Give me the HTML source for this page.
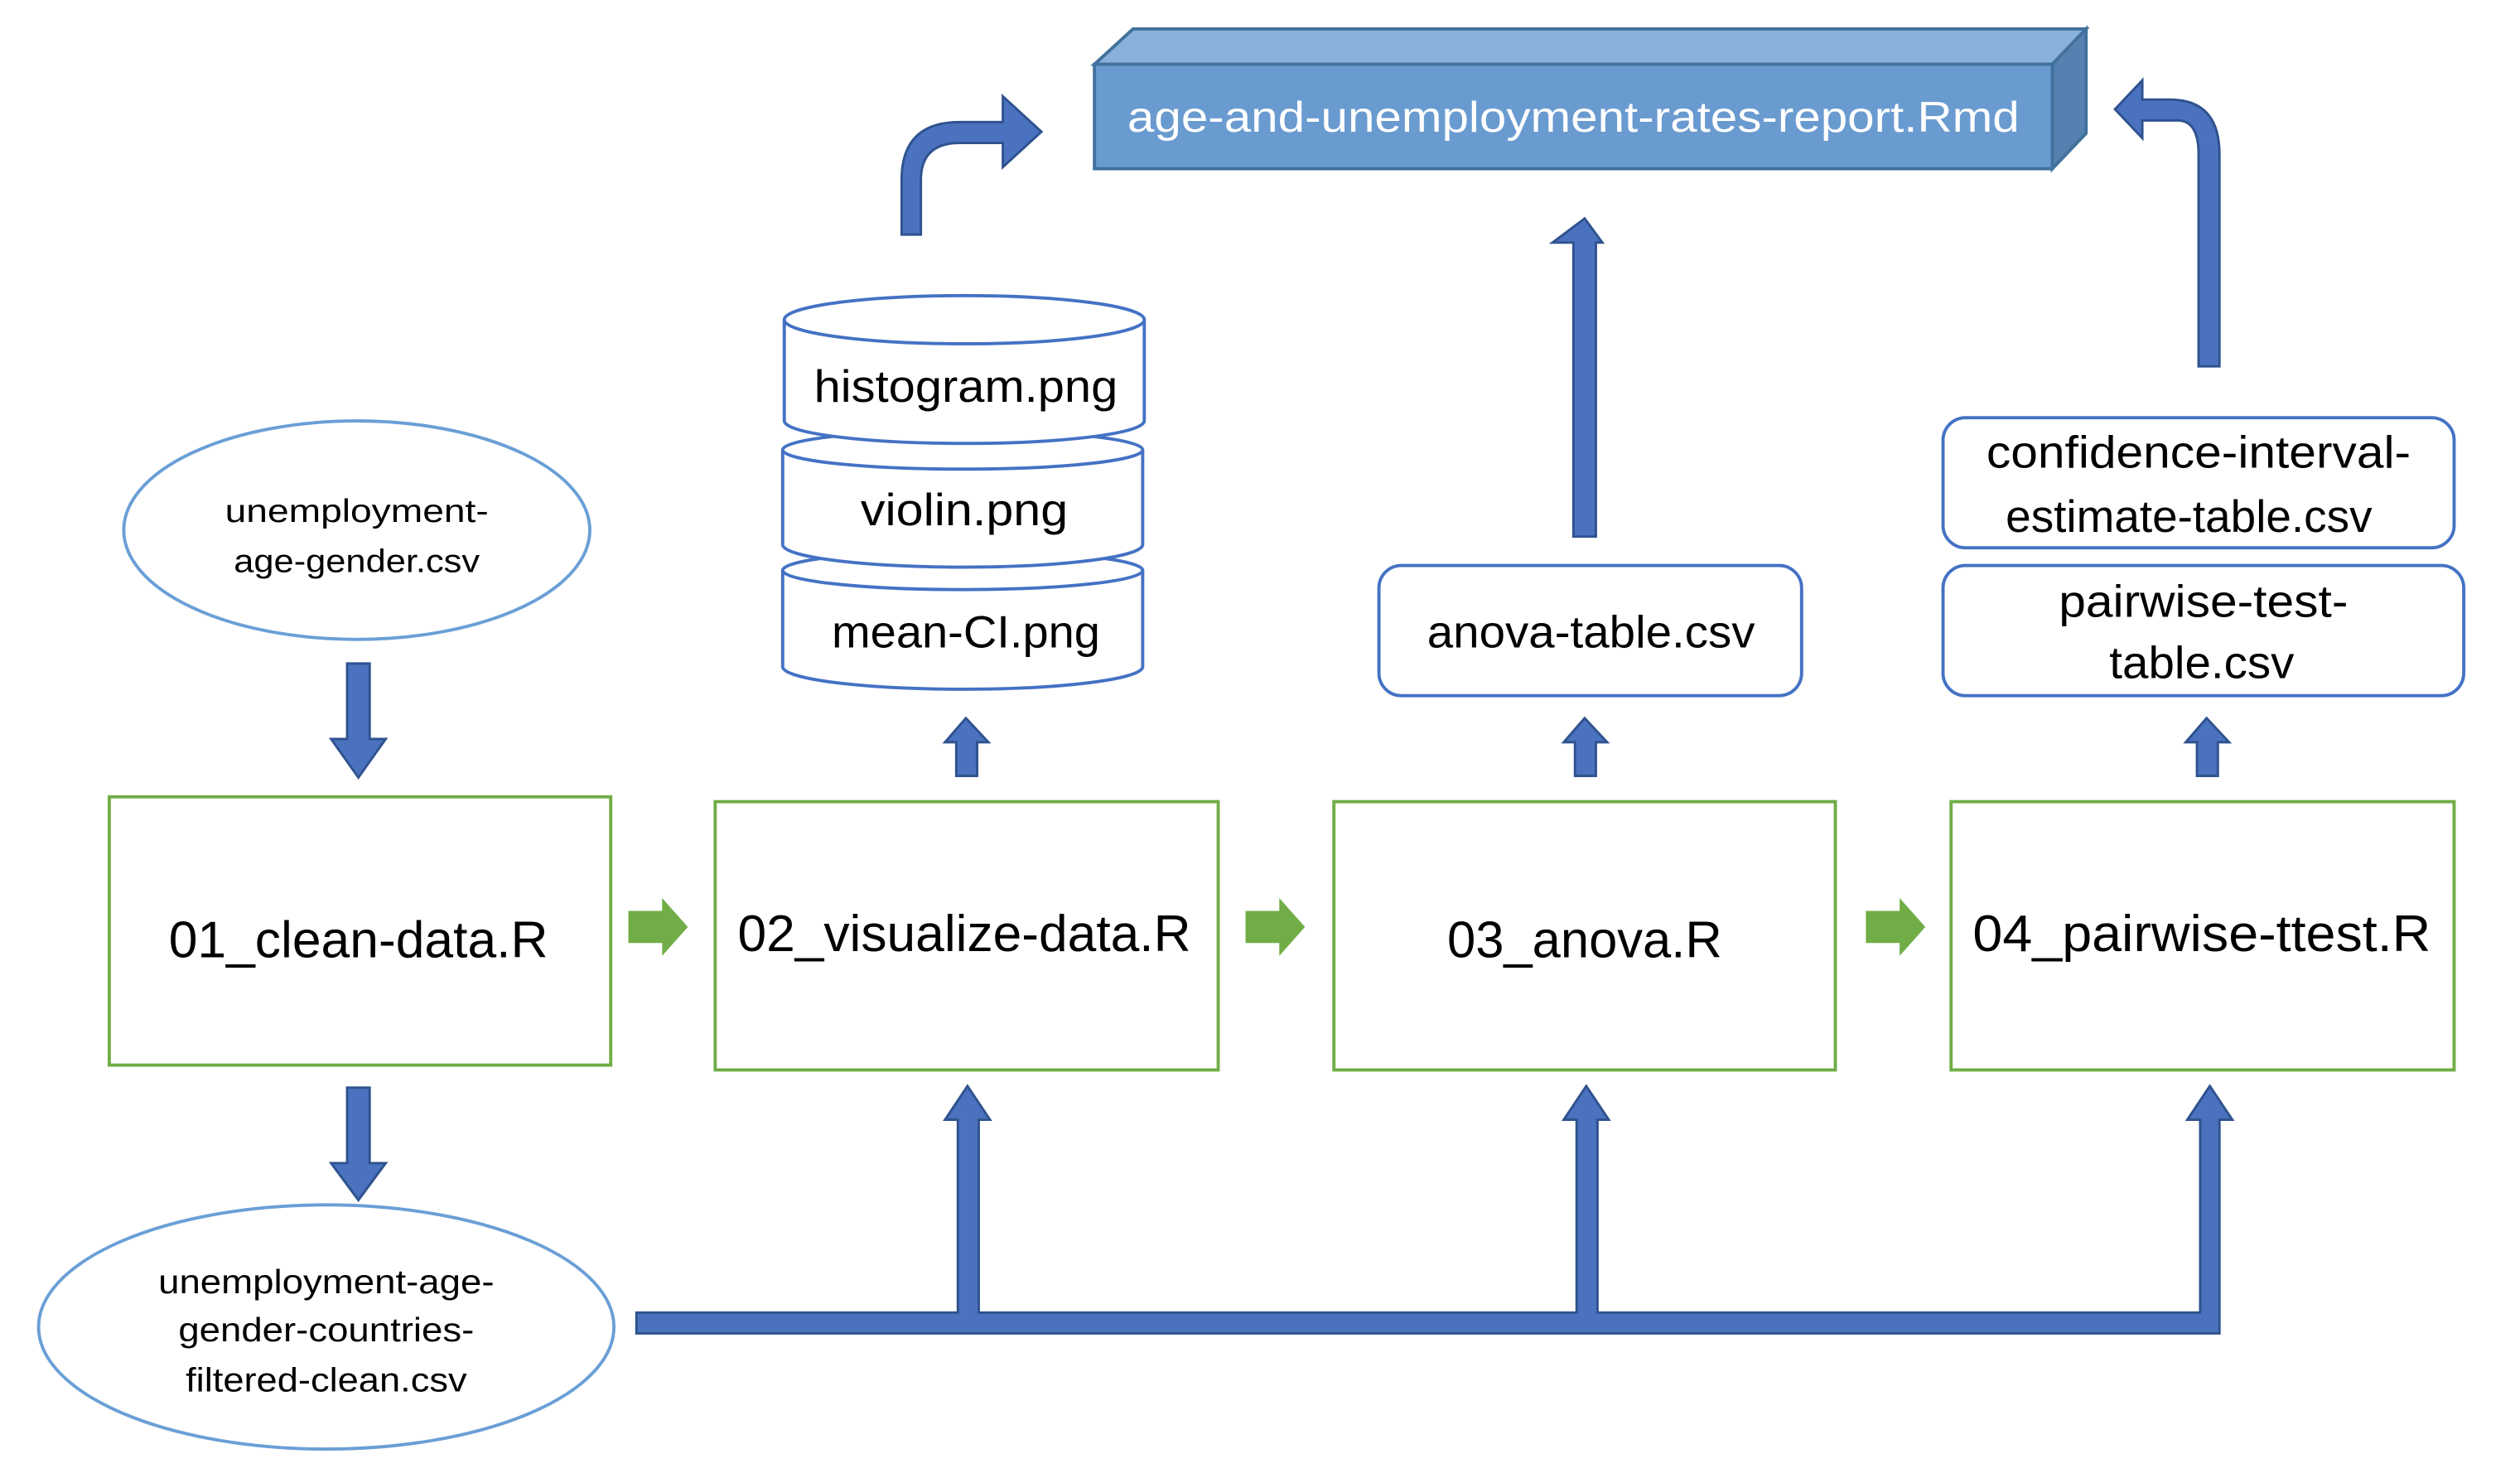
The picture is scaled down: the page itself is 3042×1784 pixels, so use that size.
<!DOCTYPE html>
<html><head><meta charset="utf-8"><style>html,body{margin:0;padding:0;background:#fff}svg{display:block}</style></head>
<body>
<svg width="3042" height="1784" viewBox="0 0 1568 920" preserveAspectRatio="none" xmlns="http://www.w3.org/2000/svg" font-family="'Liberation Sans', sans-serif">
<rect width="1568" height="920" fill="#fff"/>
<polygon points="681,40 705,18 1298,18 1277,40" fill="#88b0d8" stroke="#41719c" stroke-width="2"/>
<polygon points="1277,40 1298,18 1298,83 1277,105" fill="#5580b0" stroke="#41719c" stroke-width="2"/>
<rect x="681" y="40" width="596" height="65" fill="#6a9bd0" stroke="#41719c" stroke-width="2"/>
<text x="979" y="82" font-size="27" fill="#fff" text-anchor="middle" textLength="555" lengthAdjust="spacingAndGlyphs">age-and-unemployment-rates-report.Rmd</text>
<g fill="#4a72be" stroke="#2f528f" stroke-width="1.5">
<path d="M561,146 L561,112 Q561,76 597,76 L624,76 L624,60 L648,82 L624,104 L624,89 L597,89 Q573,89 573,112 L573,146 Z"/>
<path d="M1381,228 L1381,96 Q1381,62 1350,62 L1333,62 L1333,50 L1316,68 L1333,86 L1333,75 L1355,75 Q1368,75 1368,96 L1368,228 Z"/>
<path d="M979,334 L979,151 L966,151 L986,136 L997,151 L993,151 L993,334 Z"/>
<path d="M595,483 L595,462 L588,462 L601,447 L615,462 L608,462 L608,483 Z"/>
<path d="M980,483 L980,462 L973,462 L986,447 L1000,462 L993,462 L993,483 Z"/>
<path d="M1367,483 L1367,462 L1360,462 L1373,447 L1387,462 L1380,462 L1380,483 Z"/>
<path d="M216,413 L230,413 L230,460 L240,460 L223,484 L206,460 L216,460 Z"/>
<path d="M216,677 L230,677 L230,724 L240,724 L223,747 L206,724 L216,724 Z"/>
<path d="M396,817 L596,817 L596,697 L588,697 L602,676 L616,697 L609,697 L609,817 L981,817 L981,697 L973,697 L987,676 L1001,697 L994,697 L994,817 L1369,817 L1369,697 L1361,697 L1375,676 L1389,697 L1381,697 L1381,830 L396,830 Z"/>
</g>
<ellipse cx="222" cy="330" rx="145" ry="68" fill="#fff" stroke="#6a9fd6" stroke-width="2"/>
<text x="222" y="325" font-size="20" text-anchor="middle" textLength="164" lengthAdjust="spacingAndGlyphs">unemployment-</text>
<text x="222" y="356" font-size="20" text-anchor="middle" textLength="153" lengthAdjust="spacingAndGlyphs">age-gender.csv</text>
<ellipse cx="203" cy="826" rx="179" ry="76" fill="#fff" stroke="#6a9fd6" stroke-width="2"/>
<text x="203" y="805" font-size="21" text-anchor="middle" textLength="209" lengthAdjust="spacingAndGlyphs">unemployment-age-</text>
<text x="203" y="835" font-size="21" text-anchor="middle" textLength="184" lengthAdjust="spacingAndGlyphs">gender-countries-</text>
<text x="203" y="866" font-size="21" text-anchor="middle" textLength="175" lengthAdjust="spacingAndGlyphs">filtered-clean.csv</text>
<g fill="#fff" stroke="#4472c4" stroke-width="2">
<path d="M487,355 L487,415 A112,14 0 0 0 711,415 L711,355"/>
<ellipse cx="599" cy="355" rx="112" ry="12"/>
<path d="M487,280 L487,339 A112,14 0 0 0 711,339 L711,280"/>
<ellipse cx="599" cy="280" rx="112" ry="12"/>
<path d="M488,199 L488,262 A112,14 0 0 0 712,262 L712,199"/>
<ellipse cx="600" cy="199" rx="112" ry="15"/>
</g>
<text x="601" y="250" font-size="28" text-anchor="middle" textLength="189" lengthAdjust="spacingAndGlyphs">histogram.png</text>
<text x="600" y="327" font-size="28" text-anchor="middle" textLength="129" lengthAdjust="spacingAndGlyphs">violin.png</text>
<text x="601" y="403" font-size="28" text-anchor="middle" textLength="167" lengthAdjust="spacingAndGlyphs">mean-CI.png</text>
<g fill="#fff" stroke="#4472c4" stroke-width="2">
<rect x="858" y="352" width="263" height="81" rx="14"/>
<rect x="1209" y="260" width="318" height="81" rx="14"/>
<rect x="1209" y="352" width="324" height="81" rx="14"/>
</g>
<text x="990" y="403" font-size="28" text-anchor="middle" textLength="204" lengthAdjust="spacingAndGlyphs">anova-table.csv</text>
<text x="1368" y="291" font-size="28" text-anchor="middle" textLength="264" lengthAdjust="spacingAndGlyphs">confidence-interval-</text>
<text x="1362" y="331" font-size="28" text-anchor="middle" textLength="228" lengthAdjust="spacingAndGlyphs">estimate-table.csv</text>
<text x="1371" y="384" font-size="28" text-anchor="middle" textLength="180" lengthAdjust="spacingAndGlyphs">pairwise-test-</text>
<text x="1370" y="422" font-size="28" text-anchor="middle" textLength="115" lengthAdjust="spacingAndGlyphs">table.csv</text>
<g fill="#fff" stroke="#70ad47" stroke-width="2">
<rect x="68" y="496" width="312" height="167"/>
<rect x="445" y="499" width="313" height="167"/>
<rect x="830" y="499" width="312" height="167"/>
<rect x="1214" y="499" width="313" height="167"/>
</g>
<g font-size="32" text-anchor="middle">
<text x="223" y="596" textLength="236" lengthAdjust="spacingAndGlyphs">01_clean-data.R</text>
<text x="600" y="592" textLength="282" lengthAdjust="spacingAndGlyphs">02_visualize-data.R</text>
<text x="986" y="596" textLength="171" lengthAdjust="spacingAndGlyphs">03_anova.R</text>
<text x="1370" y="592" textLength="285" lengthAdjust="spacingAndGlyphs">04_pairwise-ttest.R</text>
</g>
<g fill="#70ad47">
<path d="M391,567 L412,567 L412,559 L428,577 L412,595 L412,587 L391,587 Z"/>
<path d="M775,567 L796,567 L796,559 L812,577 L796,595 L796,587 L775,587 Z"/>
<path d="M1161,567 L1182,567 L1182,559 L1198,577 L1182,595 L1182,587 L1161,587 Z"/>
</g>
</svg>
</body></html>
